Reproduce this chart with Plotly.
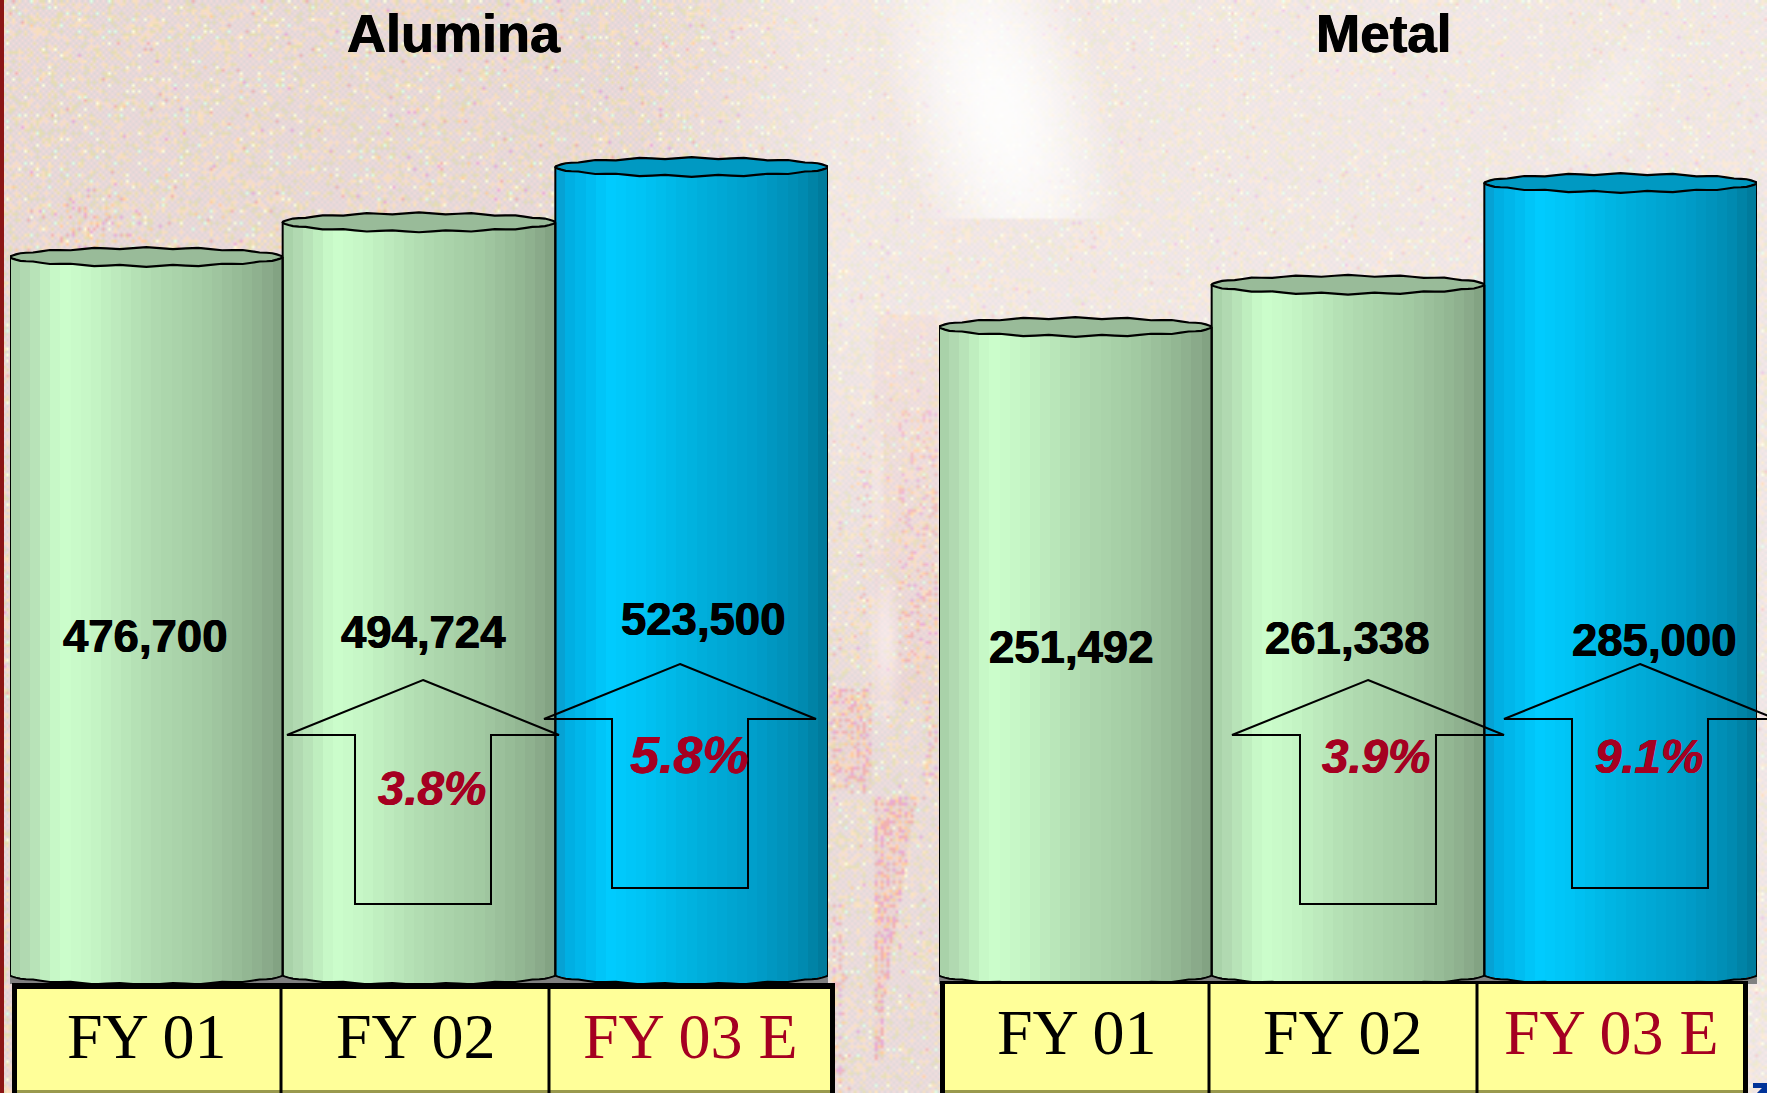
import base64
import struct
import zlib

import numpy as np
import plotly.graph_objects as go

# ---- chart values ----
categories = ["FY 01", "FY 02", "FY 03 E"]
alumina_values = [476700, 494724, 523500]
metal_values = [251492, 261338, 285000]
alumina_growth = ["3.8%", "5.8%"]
metal_growth = ["3.9%", "9.1%"]
panel_titles = ["Alumina", "Metal"]

# ---- canvas and colours ----
W, H = 1767, 1093
BLACK = "#000000"
RED = "#A50021"
YELLOW = "#FFFF99"
GREEN_STOPS = [(0, "#A6CFA6"), (.05, "#B0D8B0"), (.19, "#CCFFCC"), (.3, "#C6F6C6"), (.5, "#B2DDB2"),
               (.72, "#A3CBA3"), (.88, "#93B693"), (.95, "#8AAA8A"), (1, "#7F9F7F")]
BLUE_STOPS = [(0, "#0A9CCC"), (.05, "#00AEE2"), (.2, "#00CCFF"), (.32, "#00C4F5"), (.5, "#00B2DF"),
              (.75, "#009DC9"), (.9, "#008CB2"), (1, "#007897")]
GREEN_TOP, BLUE_TOP = "#99BB99", "#0099C2"
STRIPS = 27
ELLIPSE_PX = 9
RIM_WOBBLE = .1


def px(x):
    return x / W


def py(y):
    return 1 - y / H


def hex_rgb(c):
    return np.array([int(c[i:i + 2], 16) for i in (1, 3, 5)], float)


def ramp(stops, n):
    ts = (np.arange(n) + .5) / n
    pos = [s[0] for s in stops]
    rgb = np.array([hex_rgb(s[1]) for s in stops])
    cols = np.stack([np.interp(ts, pos, rgb[:, k]) for k in range(3)], axis=1)
    return ["rgb(%d,%d,%d)" % tuple(c) for c in cols]


# ---- speckled paper backdrop, written as a small PNG ----
def blob(X, Y, cx, cy, sx, sy):
    return np.exp(-((X - cx) / sx) ** 2 - ((Y - cy) / sy) ** 2)


def box(X, Y, x0, x1, y0, y1):
    return ((X >= x0) & (X <= x1) & (Y >= y0) & (Y <= y1)).astype(float)


def backdrop():
    cell = 3
    ny, nx = H // cell + 1, W // cell + 1
    J, I = np.meshgrid(np.arange(nx), np.arange(ny))
    X, Y = J * cell, I * cell

    def grain(a, b):
        v = np.sin(J * a + I * b) * 43758.5453
        return v - np.floor(v)

    g1, g2 = grain(12.9898, 78.233), grain(39.346, 11.135)
    lattice = (I % 2 == 0) & (J % 2 == 0)

    # how pale and how strongly speckled each part of the page is
    pale = .05 + .36 * np.clip((X - 640) / 200, 0, 1)
    fade = np.where(X < 940, 1 - .7 * np.clip((Y - 300) / 400, 0, 1), 1)
    pale = pale * fade
    pale = np.maximum(pale, .95 * blob(X, Y, 1000 + .2 * (Y - 110), 110, 120, 260) * (Y < 217))
    pale = np.maximum(pale, .55 * blob(X, Y, 1610 - .5 * (Y - 100), 100, 80, 130) * (Y < 215))
    pale = np.maximum(pale, .6 * blob(X, Y, 885, 640, 16, 80))
    pale = np.maximum(pale, .5 * blob(X, Y, 878, 480, 9, 120))

    heat = np.zeros_like(pale) + .03
    spire_half = np.clip((1060 - Y) / 340, .15, 1) * 27
    spire = (np.abs(X - (875 + spire_half)) < spire_half) & (Y > 795) & (Y < 1060)
    heat = np.where(spire, .95, heat)
    heat = np.maximum(heat, .8 * box(X, Y, 830, 872, 690, 790))
    heat = np.maximum(heat, .55 * box(X, Y, 925, 938, 700, 790))
    heat = np.maximum(heat, .45 * box(X, Y, 898, 936, 410, 660))
    heat = np.maximum(heat, .25 * box(X, Y, 858, 872, 420, 660))
    heat = np.maximum(heat, .6 * box(X, Y, 832, 845, 900, 1093))
    heat = np.maximum(heat, .7 * blob(X, Y, 88, 222, 45, 22))

    # a faint rose wash behind the spire
    tint = np.maximum(.5 * box(X, Y, 875, 936, 315, 700), np.where(spire, .6, 0))
    tint = np.maximum(tint, .5 * box(X, Y, 830, 872, 690, 790))

    # soft woven base: pink and grey in a checker
    base = np.where(((I + J) % 2 == 0)[..., None], hex_rgb("#F2D9D9"), hex_rgb("#DCD4D6"))
    img = base.copy()
    odds = np.where(lattice, g1, g1 * .82)
    img[odds > .62] = hex_rgb("#F7DDBC")
    img[odds > .72] = hex_rgb("#E4DCB0")
    img[odds > .82] = hex_rgb("#FFE3B8")
    img[odds > .88] = hex_rgb("#FFFFDC")
    img[odds > .95] = hex_rgb("#DCFFE4")
    hot = (g2 > 1 - heat * .7) & lattice | (g2 > 1 - heat * .3)
    img[hot & (g1 < .45)] = hex_rgb("#F0B0B0")
    img[hot & (g1 >= .45) & (g1 < .72)] = hex_rgb("#FFCC99")
    img[hot & (g1 >= .72)] = hex_rgb("#E8A8D8")
    img = img + (255 - img) * pale[..., None]
    img[..., 1] -= tint * 12
    img[..., 2] -= tint * 12
    img = np.clip(img, 0, 255).astype(np.uint8)

    raw = b"".join(b"\x00" + row.tobytes() for row in img)

    def chunk(tag, data):
        return struct.pack(">I", len(data)) + tag + data + struct.pack(">I", zlib.crc32(tag + data))

    png = (b"\x89PNG\r\n\x1a\n" + chunk(b"IHDR", struct.pack(">IIBBBBB", nx, ny, 8, 2, 0, 0, 0))
           + chunk(b"IDAT", zlib.compress(raw, 9)) + chunk(b"IEND", b""))
    return "data:image/png;base64," + base64.b64encode(png).decode()


# ---- one cylinder per category, built from its value ----
def add_cylinder(fig, xa, ya, idx, value, zero, per_unit, stops, top_colour):
    ry = ELLIPSE_PX / per_unit
    n = STRIPS
    edges = np.linspace(-.5, .5, n + 1)
    mids = (edges[:-1] + edges[1:]) / 2
    sag = np.sqrt(np.clip(1 - (2 * mids) ** 2, 0, 1))
    bases = zero - ry * sag
    fig.add_trace(go.Bar(x=idx + mids, y=value - bases, base=bases, width=1 / n + .0005,
                         marker=dict(color=ramp(stops, n), line=dict(width=0)),
                         xaxis=xa, yaxis=ya, showlegend=False, hoverinfo="skip"))
    # sides and the lower rim
    ang = np.linspace(np.pi, 2 * np.pi, 33)
    low_x = idx + .5 * np.cos(ang)
    low_y = zero + ry * np.sin(ang) * (1 + RIM_WOBBLE * np.cos(16 * ang))
    fig.add_trace(go.Scatter(x=np.r_[idx - .5, low_x, idx + .5], y=np.r_[value, low_y, value], mode="lines",
                             line=dict(color=BLACK, width=2, simplify=False), xaxis=xa, yaxis=ya,
                             showlegend=False, hoverinfo="skip"))
    # the flat top, its rim slightly uneven as on a low-resolution slide
    ang = np.linspace(0, 2 * np.pi, 65)
    rim_y = value + ry * np.sin(ang) * (1 + RIM_WOBBLE * np.cos(16 * ang))
    fig.add_trace(go.Scatter(x=idx + .5 * np.cos(ang), y=rim_y, mode="lines", fill="toself",
                             fillcolor=top_colour, line=dict(color=BLACK, width=2.2, simplify=False),
                             xaxis=xa, yaxis=ya, showlegend=False, hoverinfo="skip"))


def arrow_path(tip_x, tip_y):
    half_head, half_shaft, head_h, length = 136, 68, 55, 224
    pts = [(tip_x, tip_y), (tip_x + half_head, tip_y + head_h), (tip_x + half_shaft, tip_y + head_h),
           (tip_x + half_shaft, tip_y + length), (tip_x - half_shaft, tip_y + length),
           (tip_x - half_shaft, tip_y + head_h), (tip_x - half_head, tip_y + head_h)]
    return "M " + " L ".join(f"{px(x):.5f} {py(y):.5f}" for x, y in pts) + " Z"


def rect(x0, y0, x1, y1, fill, layer="above"):
    return dict(type="rect", xref="paper", yref="paper", x0=px(x0), x1=px(x1), y0=py(y0), y1=py(y1),
                fillcolor=fill, line=dict(width=0), layer=layer)


def text(x, y, s, size, colour, family="Liberation Sans", bold=True, italic=False, heavy=False):
    font = dict(family=family, size=size, color=colour, weight="bold" if bold else "normal",
                style="italic" if italic else "normal")
    if heavy:
        font["shadow"] = f"0.5px 0 0 {colour}, -0.5px 0 0 {colour}"
    return dict(xref="paper", yref="paper", x=px(x), y=py(y), text=s, showarrow=False, xanchor="center",
                yanchor="middle", font=font)


fig = go.Figure()

# pixels per unit and the value sitting at the foot of each cylinder group
alumina_scale, alumina_zero = 0.001923, 103330
metal_scale, metal_zero = 0.004297, 100690
FOOT = 975
panels = [("x", "y", alumina_values, alumina_zero, alumina_scale), ("x2", "y2", metal_values, metal_zero, metal_scale)]
for xa, ya, vals, zero, scale in panels:
    for i, v in enumerate(vals):
        last = i == len(vals) - 1
        add_cylinder(fig, xa, ya, i, v, zero, scale, BLUE_STOPS if last else GREEN_STOPS,
                     BLUE_TOP if last else GREEN_TOP)


def y_range(zero, scale):
    return [zero - (H - FOOT) / scale, zero + FOOT / scale]


shapes = [rect(0, 0, 4, H, "#8B1515", "below"), rect(10, 968, 828, 984, "#808080", "below"),
          rect(939, 968, 1757, 984, "#808080", "below")]

# category boxes under each group
for left, lines, right, top, thick in ((12, (281, 549), 835, 983, 6), (940, (1209, 1477), 1748, 981, 3)):
    shapes.append(rect(left, top, right, H, BLACK))
    shapes.append(rect(left + 5, top + thick, right - 5, 1090, YELLOW))
    shapes.append(rect(left + 5, 1090, right - 5, H, "#99994D"))
    for xl in lines:
        shapes.append(rect(xl - 1.5, top, xl + 1.5, H, BLACK))

for tip_x, tip_y in ((423, 680), (680, 664), (1368, 680), (1640, 664)):
    shapes.append(dict(type="path", xref="paper", yref="paper", path=arrow_path(tip_x, tip_y),
                       line=dict(color=BLACK, width=2), fillcolor="rgba(0,0,0,0)", layer="above"))

# the top of a slide number running off the lower corner
corner = [(1753, 1083), (1767, 1083), (1767, 1093), (1757, 1093), (1762, 1088), (1753, 1088)]
shapes.append(dict(type="path", xref="paper", yref="paper", fillcolor="#003399", line=dict(width=0), layer="above",
                   path="M " + " L ".join(f"{px(x):.5f} {py(y):.5f}" for x, y in corner) + " Z"))

annotations = [text(454, 33, panel_titles[0], 54, BLACK, heavy=True), text(1383, 33, panel_titles[1], 53, BLACK, heavy=True)]

for (x, y), v in zip(((145, 636), (423, 632), (703, 619)), alumina_values):
    annotations.append(text(x, y, f"{v:,}", 45.5, BLACK, heavy=True))
for (x, y), v in zip(((1071, 647), (1347, 638), (1654, 640)), metal_values):
    annotations.append(text(x, y, f"{v:,}", 45.5, BLACK, heavy=True))

for (x, y, size), s in zip(((432, 788, 47.5), (689, 755, 52)), alumina_growth):
    annotations.append(text(x, y, s, size, RED, italic=True, heavy=True))
for (x, y, size), s in zip(((1376, 756, 47.5), (1649, 756, 47.5)), metal_growth):
    annotations.append(text(x, y, s, size, RED, italic=True, heavy=True))

for xs, y in (((146, 415, 690), 1036), ((1076, 1342, 1611), 1032)):
    for x, s in zip(xs, categories):
        annotations.append(text(x, y, s, 64, RED if s.endswith("E") else BLACK, "Liberation Serif", bold=False))

axis_off = dict(visible=False, fixedrange=True)
fig.update_layout(
    width=W, height=H, autosize=False, margin=dict(l=0, r=0, t=0, b=0), barmode="overlay", bargap=0,
    paper_bgcolor="#F4E4E4", plot_bgcolor="rgba(0,0,0,0)", showlegend=False,
    xaxis=dict(domain=[px(10), px(828)], range=[-.5, 2.5], anchor="y", **axis_off),
    xaxis2=dict(domain=[px(939), px(1757)], range=[-.5, 2.5], anchor="y2", **axis_off),
    yaxis=dict(domain=[0, 1], range=y_range(alumina_zero, alumina_scale), anchor="x", **axis_off),
    yaxis2=dict(domain=[0, 1], range=y_range(metal_zero, metal_scale), anchor="x2", **axis_off),
    images=[dict(source=backdrop(), xref="paper", yref="paper", x=0, y=1, sizex=1, sizey=1,
                 xanchor="left", yanchor="top", sizing="stretch", layer="below")],
    shapes=shapes, annotations=annotations,
)

fig.write_html("out.html", config=dict(displayModeBar=False))
